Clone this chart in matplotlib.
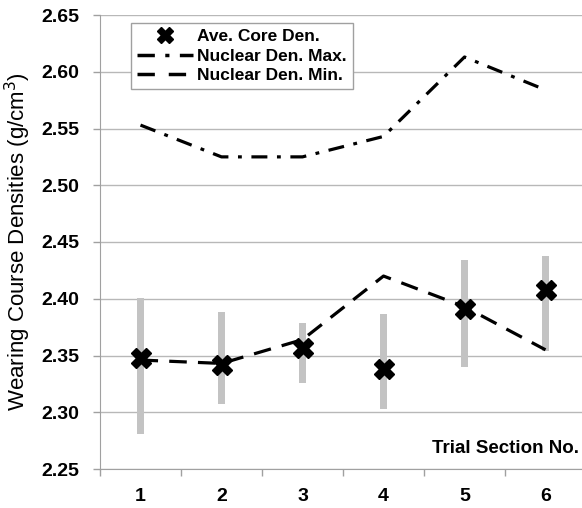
import numpy as np
import matplotlib
matplotlib.use("Agg")
import matplotlib.pyplot as plt
from matplotlib.lines import Line2D

# Data
sections = [1, 2, 3, 4, 5, 6]
core_avg = [2.348, 2.342, 2.357, 2.338, 2.391, 2.408]
core_low = [2.281, 2.307, 2.326, 2.303, 2.340, 2.354]
core_high = [2.401, 2.388, 2.379, 2.387, 2.434, 2.438]
nuclear_max = [2.553, 2.525, 2.525, 2.543, 2.613, 2.584]
nuclear_min = [2.346, 2.343, 2.364, 2.420, 2.393, 2.355]
y_ticks = [2.25, 2.30, 2.35, 2.40, 2.45, 2.50, 2.55, 2.60, 2.65]

plt.rcParams['font.family'] = ['Liberation Sans', 'DejaVu Sans']

fig = plt.figure(figsize=(5.82, 5.08), dpi=100)
ax = fig.add_axes([100/582, 39/508, 486/582, 454/508])

x = np.array(sections)
low = np.array(core_low)
high = np.array(core_high)

# gray range bars
ax.bar(x, high - low, bottom=low, width=0.09, color='#c3c3c3', zorder=2)

ax.plot(x, nuclear_max, color='black', lw=2.3, dashes=[5, 3, 1.2, 3], zorder=3)
ax.plot(x, nuclear_min, color='black', lw=2.3, dashes=[5.5, 3.5], zorder=3)
ax.plot(x, core_avg, linestyle='none', marker='X', ms=14, color='black',
        markeredgecolor='black', zorder=4)

ax.set_xlim(0.5, 6.5)
ax.set_ylim(2.25, 2.65)
ax.set_yticks(y_ticks)
ax.set_yticklabels([f"{t:.2f}" for t in y_ticks], fontsize=14, fontweight='bold')
ax.set_xticks(sections)
ax.set_xticklabels([str(s) for s in sections], fontsize=14, fontweight='bold')
ax.set_xticks(np.arange(0.5, 6.5, 1.0), minor=True)
ax.tick_params(axis='x', which='major', length=0, pad=14)
ax.tick_params(axis='x', which='minor', length=5, color='#a0a0a0', width=1)
ax.tick_params(axis='y', length=5, color='#a0a0a0', width=1, pad=10)

ax.grid(axis='y', color='#b8b8b8', lw=1)
ax.set_axisbelow(True)
for s in ['top', 'right']:
    ax.spines[s].set_visible(False)
ax.spines['left'].set_color('#a0a0a0')
ax.spines['bottom'].set_color('#a0a0a0')

ax.set_ylabel('Wearing Course Densities (g/cm$^3$)', fontsize=16, labelpad=6)

ax.text(0.985, 0.046, 'Trial Section No.', transform=ax.transAxes, ha='right',
        va='center', fontsize=13.5, fontweight='bold')

handles = [
    Line2D([], [], linestyle='none', marker='X', ms=12, color='black'),
    Line2D([], [], color='black', lw=2.5, dashes=[5, 3, 1.2, 3]),
    Line2D([], [], color='black', lw=2.5, dashes=[5, 4]),
]
leg = ax.legend(handles, ['Ave. Core Den.', 'Nuclear Den. Max.', 'Nuclear Den. Min.'],
                loc='upper left', bbox_to_anchor=(0.064, 0.982), fancybox=False,
                framealpha=1, edgecolor='#a0a0a0', handlelength=3.2,
                prop={'weight': 'bold', 'size': 12.5}, borderaxespad=0,
                labelspacing=0.25, handletextpad=0.25, borderpad=0.35)
leg.get_frame().set_linewidth(1)

plt.savefig('out.png', dpi=100)
